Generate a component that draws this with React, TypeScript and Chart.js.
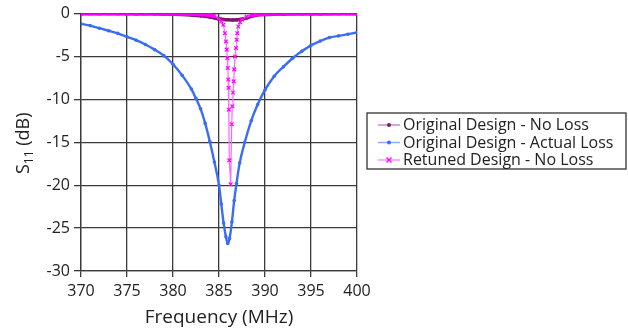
import React, { useEffect, useRef } from "react";
import { Chart, registerables } from "chart.js";

Chart.register(...registerables);

const FONT = "'Open Sans', 'DejaVu Sans', sans-serif";

const seriesNames = [
  "Original Design - No Loss",
  "Original Design - Actual Loss",
  "Retuned Design - No Loss",
];

const xTickValues = [370, 375, 380, 385, 390, 395, 400];
const yTickValues = [0, -5, -10, -15, -20, -25, -30];

// Original Design - No Loss
const noLossFreq = [370, 372, 374, 376, 378, 379, 380, 381, 382, 383, 383.5, 384, 384.5, 385, 385.5, 386, 386.5, 387, 387.5, 388, 388.5, 389, 390, 391, 392, 394, 396, 398, 400];
const noLossDb = [0, 0, 0, -0.01, -0.03, -0.05, -0.07, -0.1, -0.17, -0.26, -0.32, -0.4, -0.5, -0.6, -0.68, -0.72, -0.74, -0.72, -0.65, -0.5, -0.33, -0.2, -0.1, -0.06, -0.04, -0.02, -0.01, 0, 0];

// Original Design - Actual Loss
const actualFreq = [370, 371, 372, 373, 374, 375, 376, 377, 378, 379, 380, 381, 382, 382.5, 383, 383.5, 384, 384.5, 385, 385.25, 385.5, 385.75, 385.95, 386.15, 386.4, 386.65, 386.9, 387.25, 387.8, 388.5, 389.2, 390, 391, 392, 393, 394, 395, 396, 397, 398, 399, 400];
const actualDb = [-1.2, -1.4, -1.7, -2.0, -2.3, -2.7, -3.1, -3.6, -4.2, -4.9, -5.9, -7.2, -8.8, -9.9, -11.1, -12.8, -14.9, -17.3, -20.0, -22.2, -24.4, -26.0, -26.8, -26.2, -24.3, -21.8, -19.8, -17.4, -15.0, -12.5, -10.6, -8.9, -7.3, -6.2, -5.2, -4.4, -3.7, -3.2, -2.8, -2.6, -2.4, -2.2];

// Retuned Design - No Loss
const retunedFreq = [370, 371, 372, 373, 374, 375, 376, 377, 378, 379, 380, 381, 382, 383, 384, 384.5, 385, 385.25, 385.47, 385.65, 385.76, 385.84, 385.9, 385.95, 386.01, 386.05, 386.07, 386.12, 386.27, 386.38, 386.45, 386.52, 386.6, 386.66, 386.74, 386.85, 386.92, 386.99, 387.1, 387.3, 387.5, 388, 388.5, 389, 390, 391, 392, 393, 394, 395, 396, 397, 398, 399, 400];
const retunedDb = [0, 0, 0, 0, 0, 0, 0, 0, 0, 0, -0.02, -0.03, -0.05, -0.08, -0.15, -0.3, -0.6, -0.9, -1.31, -2.28, -3.24, -4.2, -5.18, -6.34, -7.68, -8.65, -11.2, -17.1, -19.9, -12.9, -10.8, -9.2, -7.9, -6.5, -5.0, -4.0, -3.05, -2.28, -1.5, -1.0, -0.7, -0.35, -0.2, -0.1, -0.05, -0.02, 0, 0, 0, 0, 0, 0, 0, 0, 0];

const toPoints = (xs: number[], ys: number[]) => xs.map((x, i) => ({ x, y: ys[i] }));

const lineColors = ["#7f1670", "#3b6cf6", "#ff66ff"];
const markerColors = ["#7f1670", "#3b6cf6", "#ff00ff"];
const legendLineColors = ["#c58fc0", "#8eaaff", "#ff8cff"];

const GRID = "#3a3a3a";

const legendPlugin = {
  id: "customLegend",
  afterDraw(chart: any) {
    const ctx = chart.ctx;
    const area = chart.chartArea;
    const left = area.right + 10;
    const top = 113;
    const w = 259;
    const h = 56;
    ctx.save();
    ctx.strokeStyle = "#333";
    ctx.lineWidth = 1.3;
    ctx.strokeRect(left, top, w, h);
    ctx.font = `16px ${FONT}`;
    ctx.textBaseline = "middle";
    ctx.fillStyle = "#222";
    seriesNames.forEach((name, i) => {
      const y = top + 12 + i * 17.5;
      const lx = left + 11;
      ctx.strokeStyle = legendLineColors[i];
      ctx.lineWidth = 1.5;
      ctx.beginPath();
      ctx.moveTo(lx, y);
      ctx.lineTo(lx + 22, y);
      ctx.stroke();
      const cx = lx + 11;
      ctx.fillStyle = markerColors[i];
      ctx.strokeStyle = markerColors[i];
      if (i === 2) {
        ctx.lineWidth = 1.3;
        ctx.beginPath();
        ctx.moveTo(cx - 2.5, y - 2.5);
        ctx.lineTo(cx + 2.5, y + 2.5);
        ctx.moveTo(cx + 2.5, y - 2.5);
        ctx.lineTo(cx - 2.5, y + 2.5);
        ctx.stroke();
      } else {
        ctx.beginPath();
        ctx.arc(cx, y, 2, 0, Math.PI * 2);
        ctx.fill();
      }
      ctx.fillStyle = "#222";
      ctx.fillText(name, lx + 25, y + 0.5);
    });
    ctx.restore();
  },
};

const yTitlePlugin = {
  id: "yTitle",
  afterDraw(chart: any) {
    const ctx = chart.ctx;
    const area = chart.chartArea;
    const cy = (area.top + area.bottom) / 2 + 1;
    const cx = 24;
    ctx.save();
    ctx.translate(cx, cy);
    ctx.rotate(-Math.PI / 2);
    ctx.fillStyle = "#222";
    ctx.textBaseline = "middle";
    const big = `18px ${FONT}`;
    const small = `12px ${FONT}`;
    ctx.font = big;
    const wS = ctx.measureText("S").width;
    const wRest = ctx.measureText(" (dB)").width;
    ctx.font = small;
    const w11 = ctx.measureText("11").width;
    const total = wS + w11 + wRest;
    let x = -total / 2;
    ctx.font = big;
    ctx.fillText("S", x, 0);
    x += wS;
    ctx.font = small;
    ctx.fillText("11", x, 6);
    x += w11;
    ctx.font = big;
    ctx.fillText(" (dB)", x, 0);
    ctx.restore();
  },
};

export default function App() {
  const canvasRef = useRef<HTMLCanvasElement | null>(null);

  useEffect(() => {
    document.body.style.margin = "0";
    const canvas = canvasRef.current;
    if (!canvas) return;
    const chart = new Chart(canvas, {
      type: "line",
      data: {
        datasets: [
          {
            label: seriesNames[2],
            data: toPoints(retunedFreq, retunedDb),
            borderColor: lineColors[2],
            backgroundColor: markerColors[2],
            pointBorderColor: markerColors[2],
            pointStyle: "crossRot",
            pointRadius: 2.6,
            pointBorderWidth: 1.2,
            borderWidth: 1.2,
            segment: {
              borderWidth: (c: any) =>
                Math.abs(c.p0.parsed.y) < 0.35 && Math.abs(c.p1.parsed.y) < 0.35 ? 4 : 1.2,
              borderColor: (c: any) =>
                Math.abs(c.p0.parsed.y) < 0.35 && Math.abs(c.p1.parsed.y) < 0.35 ? "#ff00ff" : "#ff66ff",
            },
            order: 1,
          } as any,
          {
            label: seriesNames[0],
            data: toPoints(noLossFreq, noLossDb),
            borderColor: lineColors[0],
            backgroundColor: markerColors[0],
            pointRadius: 1.8,
            pointBorderWidth: 0,
            borderWidth: 3.5,
            cubicInterpolationMode: "monotone",
            order: 2,
          },
          {
            label: seriesNames[1],
            data: toPoints(actualFreq, actualDb),
            borderColor: lineColors[1],
            backgroundColor: markerColors[1],
            pointRadius: 1.8,
            pointBorderWidth: 0,
            borderWidth: 2.4,
            cubicInterpolationMode: "monotone",
            order: 3,
          },
        ],
      },
      options: {
        responsive: false,
        animation: false,
        devicePixelRatio: 1,
        layout: { padding: { top: 12, right: 271, left: 0, bottom: 0 } },
        plugins: {
          legend: { display: false },
          tooltip: { enabled: false },
        },
        scales: {
          x: {
            type: "linear",
            min: 370,
            max: 400,
            afterBuildTicks: (s: any) => {
              s.ticks = xTickValues.map((v) => ({ value: v }));
            },
            afterFit: (s: any) => {
              s.height = 60;
            },
            ticks: {
              font: { family: FONT, size: 16 },
              color: "#222",
              padding: 5,
              maxRotation: 0,
            },
            grid: { color: GRID, lineWidth: 1.3, tickLength: 6, tickColor: GRID },
            border: { color: GRID, width: 1.3 },
            title: {
              display: true,
              text: "Frequency (MHz)",
              font: { family: FONT, size: 19 },
              color: "#222",
              padding: { top: 0, bottom: 2 },
            },
          },
          y: {
            type: "linear",
            min: -30,
            max: 0,
            afterBuildTicks: (s: any) => {
              s.ticks = yTickValues.map((v) => ({ value: v }));
            },
            afterFit: (s: any) => {
              s.width = 81;
            },
            ticks: {
              font: { family: FONT, size: 16 },
              color: "#222",
              padding: 4,
            },
            grid: { color: GRID, lineWidth: 1.3, tickLength: 7, tickColor: GRID },
            border: { color: GRID, width: 1.3 },
          },
        },
      },
      plugins: [legendPlugin, yTitlePlugin],
    } as any);
    return () => chart.destroy();
  }, []);

  return (
    <div style={{ position: "fixed", left: 0, top: 0, width: 628, height: 331, background: "#fff" }}>
      <canvas ref={canvasRef} width={628} height={331} />
    </div>
  );
}
